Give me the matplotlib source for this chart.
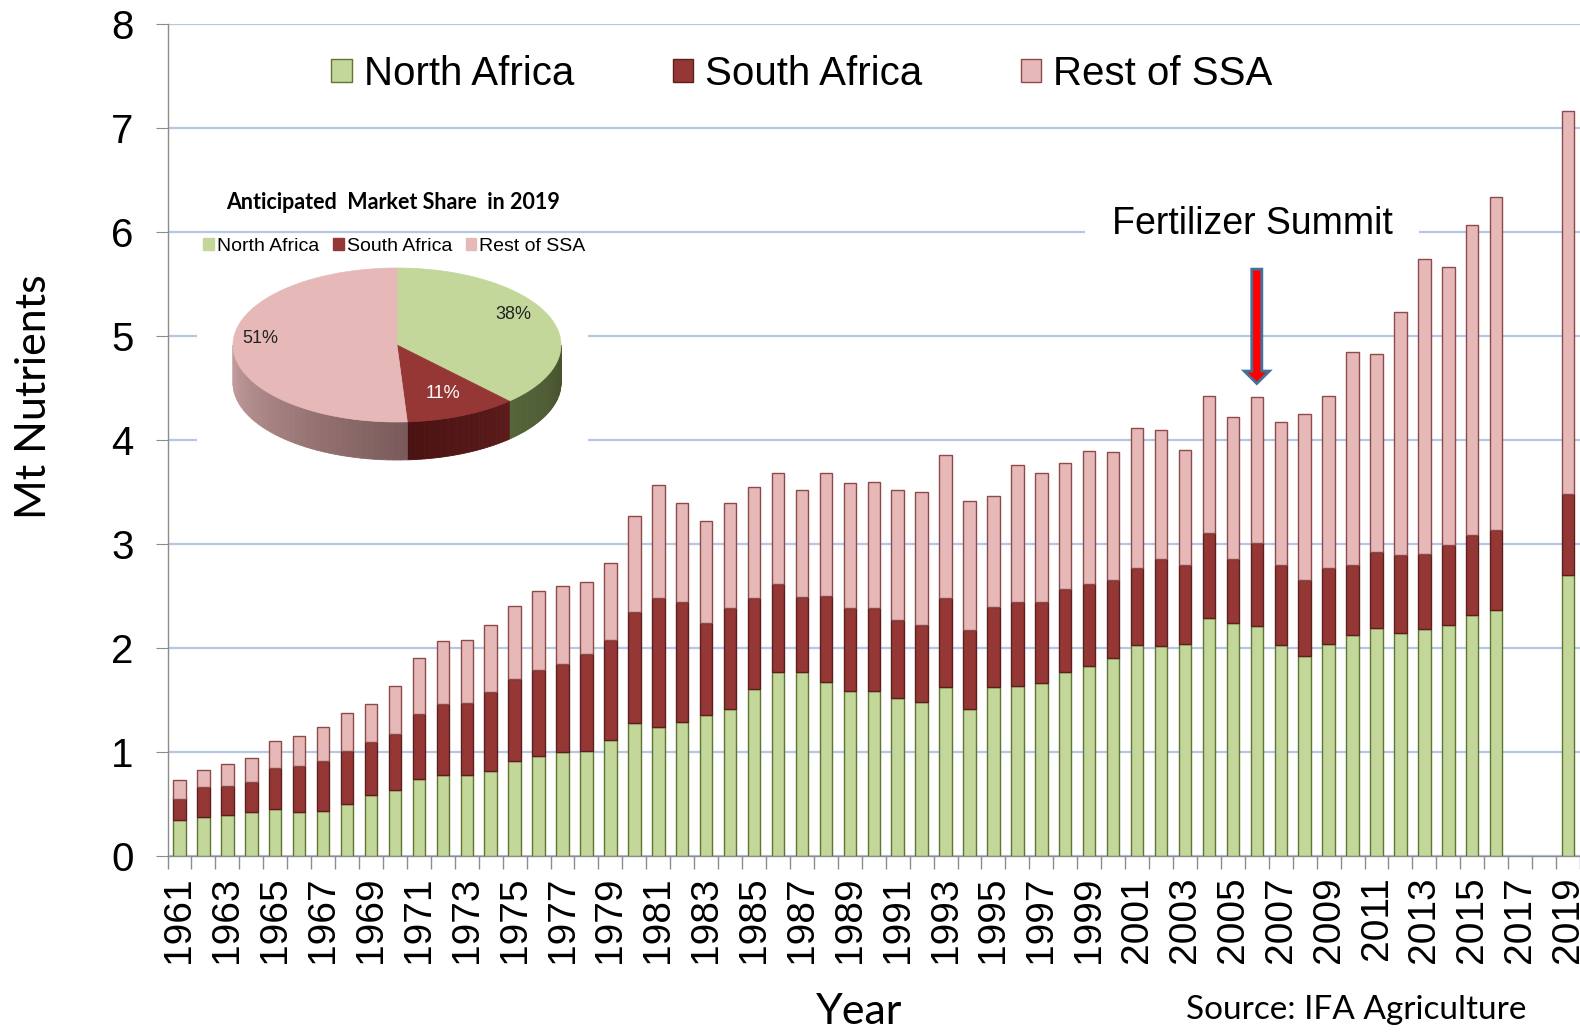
import numpy as np
import matplotlib
matplotlib.use("Agg")
import matplotlib.pyplot as plt
import matplotlib.patches as mpatches
from matplotlib.colors import to_rgb

plt.rcParams['font.family'] = ['Liberation Sans', 'DejaVu Sans']

# fertilizer use, Mt nutrients
years = list(range(1961, 2017)) + [2019]
north_africa = [0.34, 0.37, 0.39, 0.42, 0.45, 0.42, 0.43, 0.50, 0.58, 0.63,
                0.74, 0.78, 0.78, 0.81, 0.91, 0.96, 1.00, 1.01, 1.11, 1.28,
                1.24, 1.29, 1.35, 1.41, 1.60, 1.77, 1.77, 1.67, 1.58, 1.58,
                1.52, 1.48, 1.62, 1.41, 1.62, 1.63, 1.66, 1.77, 1.82, 1.90,
                2.03, 2.02, 2.04, 2.29, 2.24, 2.21, 2.03, 1.92, 2.04, 2.12,
                2.19, 2.14, 2.18, 2.22, 2.31, 2.36, 2.70]
south_africa = [0.21, 0.29, 0.28, 0.29, 0.39, 0.44, 0.48, 0.51, 0.51, 0.54,
                0.62, 0.68, 0.69, 0.76, 0.79, 0.83, 0.84, 0.93, 0.96, 1.06,
                1.24, 1.15, 0.89, 0.97, 0.88, 0.84, 0.72, 0.83, 0.80, 0.80,
                0.75, 0.74, 0.86, 0.76, 0.77, 0.81, 0.78, 0.79, 0.79, 0.75,
                0.74, 0.83, 0.76, 0.81, 0.61, 0.80, 0.77, 0.73, 0.73, 0.68,
                0.73, 0.75, 0.72, 0.77, 0.77, 0.77, 0.78]
rest_ssa = [0.18, 0.16, 0.21, 0.23, 0.26, 0.29, 0.33, 0.36, 0.37, 0.46,
            0.54, 0.60, 0.60, 0.65, 0.70, 0.76, 0.75, 0.69, 0.74, 0.93,
            1.08, 0.95, 0.98, 1.01, 1.07, 1.07, 1.03, 1.18, 1.20, 1.21,
            1.25, 1.28, 1.37, 1.24, 1.07, 1.32, 1.24, 1.22, 1.28, 1.23,
            1.34, 1.24, 1.10, 1.32, 1.37, 1.40, 1.37, 1.60, 1.65, 2.04,
            1.90, 2.34, 2.84, 2.67, 2.98, 3.20, 3.68]

regions = ['North Africa', 'South Africa', 'Rest of SSA']
pie_share = [38, 11, 51]

summit_year = 2006
arrow_top, arrow_tip = 5.64, 4.54

fills = ['#c4d79b', '#953735', '#e6b9b8']
edges = ['#5f7530', '#5a1f1e', '#8c4a48']

W, H = 1580, 1034
fig = plt.figure(figsize=(W / 100, H / 100), dpi=100)
ax = fig.add_axes([167.5 / W, 178.3 / H, 1 - 167.5 / W, 832 / H])

na = np.array(north_africa)
sa = np.array(south_africa)
rs = np.array(rest_ssa)
bw = 0.52
ax.bar(years, na, width=bw, color=fills[0], edgecolor=edges[0], lw=1, zorder=3, label=regions[0])
ax.bar(years, sa, width=bw, bottom=na, color=fills[1], edgecolor=edges[1], lw=1, zorder=3, label=regions[1])
ax.bar(years, rs, width=bw, bottom=na + sa, color=fills[2], edgecolor=edges[2], lw=1, zorder=3, label=regions[2])

ax.set_xlim(1960.5, 2019.5)
ax.set_ylim(0, 8)
ax.set_yticks(range(0, 9))
ax.yaxis.grid(True, color='#b4c7e7', lw=1.6, zorder=0)
ax.set_axisbelow(True)
for s in ['top', 'right']:
    ax.spines[s].set_visible(False)
for s in ['left', 'bottom']:
    ax.spines[s].set_color('#8c8c8c')
    ax.spines[s].set_linewidth(1.0)

ax.tick_params(axis='y', labelsize=29, length=8.4, pad=16, color='#8c8c8c')
ax.set_xticks(list(range(1961, 2020, 2)))
ax.set_xticklabels([str(y) for y in range(1961, 2020, 2)], rotation=90)
ax.set_xticks(np.arange(1960.5, 2020, 1), minor=True)
ax.tick_params(axis='x', which='major', labelsize=28, length=0, pad=15)
ax.tick_params(axis='x', which='minor', length=9.4, color='#8c8c8c', width=1)

ax.legend(loc='center', bbox_to_anchor=(802 / W, 1 - 73.6 / H), bbox_transform=fig.transFigure,
          ncol=3, frameon=False, fontsize=29, handlelength=0.5, handleheight=0.5,
          handletextpad=0.3, columnspacing=2.45, borderpad=0, borderaxespad=0)

# Fertilizer Summit note and arrow
ax.text(summit_year - 0.2, 6.07, 'Fertilizer Summit', ha='center', va='center', fontsize=27,
        zorder=2, bbox=dict(boxstyle='square,pad=0.7', fc='white', ec='none'))
ax.add_patch(mpatches.FancyArrow(summit_year, arrow_top, 0, arrow_tip - arrow_top,
                                 width=0.42, head_width=1.05, head_length=0.12,
                                 length_includes_head=True, fc='#ff0000', ec='#41719c',
                                 lw=2, zorder=5))

fig.text(34 / W, 1 - 397 / H, 'Mt Nutrients', rotation=90, ha='center', va='center',
         fontsize=31, family='Lato')
fig.text(859 / W, 1 - 1012 / H, 'Year', ha='center', va='center', fontsize=31, family='Lato')
fig.text(1356 / W, 1 - 1010 / H, 'Source: IFA Agriculture', ha='center', va='center',
         fontsize=24, family='Lato')

# inset 3D pie
px0, px1, py0, py1 = 197, 588, 236, 470
pax = fig.add_axes([px0 / W, 1 - py1 / H, (px1 - px0) / W, (py1 - py0) / H])
pax.set_xlim(px0, px1)
pax.set_ylim(py1, py0)
pax.set_facecolor('white')
for s in pax.spines.values():
    s.set_visible(False)
pax.set_xticks([])
pax.set_yticks([])

cx, cy, rx, ry, depth = 397, 345, 164, 77, 38
# side shading: (left colour, right colour)
side_cols = [('#56643a', '#46522c'), ('#4a1212', '#5a1a1a'), ('#c7a0a0', '#7a5a5a')]
label_cols = ['#222222', 'white', '#222222']
start = 90.0
for share, fc, (c0, c1), lc in zip(pie_share, fills, side_cols, label_cols):
    a0 = start
    a1 = start - share / 100 * 360
    lo, hi = max(a1, -180), min(a0, 0)
    if lo < hi:
        ts = np.linspace(lo, hi, 41)
        ca, cb = np.array(to_rgb(c0)), np.array(to_rgb(c1))
        for i in range(len(ts) - 1):
            t = np.radians(ts[i:i + 2])
            xs = cx + rx * np.cos(t)
            ys = cy - ry * np.sin(t)
            f = i / (len(ts) - 2)
            col = ca * (1 - f) + cb * f
            quad = [(xs[0], ys[0]), (xs[1], ys[1]), (xs[1], ys[1] + depth), (xs[0], ys[0] + depth)]
            pax.add_patch(mpatches.Polygon(quad, closed=True, fc=col, ec=col, lw=0.6))
    t = np.radians(np.linspace(a0, a1, 80))
    pts = [(cx, cy)] + list(zip(cx + rx * np.cos(t), cy - ry * np.sin(t)))
    pax.add_patch(mpatches.Polygon(pts, closed=True, fc=fc, ec=fc, lw=0.5))
    mid = np.radians((a0 + a1) / 2)
    pax.text(cx + 0.8 * rx * np.cos(mid) - 6, cy - 0.8 * ry * np.sin(mid) - 8, f'{share}%',
             ha='center', va='center', fontsize=13, color=lc)
    start = a1

handles = [mpatches.Patch(color=c, label=r) for c, r in zip(fills, regions)]
pax.legend(handles=handles, loc='upper center', bbox_to_anchor=(0.505, 1.0), ncol=3,
           frameon=False, fontsize=14, handlelength=0.55, handleheight=0.55,
           handletextpad=0.15, columnspacing=0.7, borderpad=0.1, borderaxespad=0)
fig.text(393 / W, 1 - 202.5 / H, 'Anticipated  Market Share  in 2019', ha='center', va='center',
         fontsize=15.5, fontweight='bold', family='Lato')

fig.savefig('out.png', dpi=100)
